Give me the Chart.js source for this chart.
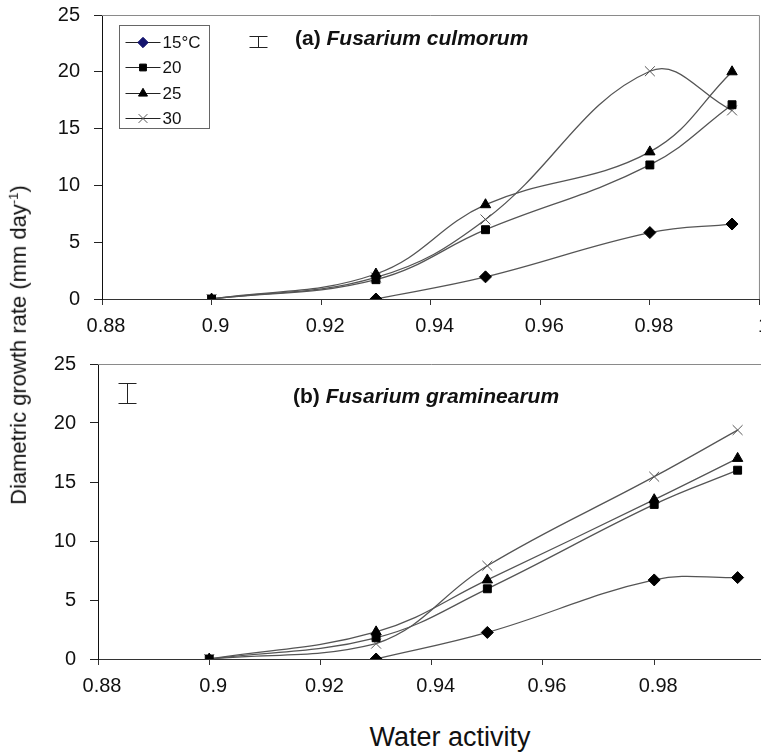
<!DOCTYPE html>
<html lang="en">
<head>
  <meta charset="UTF-8">
  <title>Diametric growth rate vs water activity</title>
  <script src="https://cdn.jsdelivr.net/npm/chart.js"></script>
  <style>
    body { margin: 0; width: 761px; height: 755px; overflow: hidden; background: #fff; position: relative; font-family: 'Liberation Sans', Arial, sans-serif; }
    canvas { position: absolute; left: 0; }
    #chartA { top: -11px; }
    #chartB { top: 338px; }
    #yTitle { position: absolute; left: 19px; top: 345px; transform: translate(-50%, -50%) rotate(-90deg); white-space: nowrap; font-size: 22px; color: #111; }
    #yTitle sup { font-size: 13px; }
    #xTitle { position: absolute; left: 450px; top: 737px; transform: translate(-50%, -50%); white-space: nowrap; font-size: 27px; color: #111; }
  </style>
</head>
<body>
  <canvas id="chartA" width="774" height="351"></canvas>
  <canvas id="chartB" width="780" height="372"></canvas>
  <div id="yTitle">Diametric growth rate (mm day<sup>-1</sup>)</div>
  <div id="xTitle">Water activity</div>

  <script>
    // water activity levels tested
    const waterActivity = [0.9, 0.93, 0.95, 0.98, 0.995];
    const temperatures = ['15°C', '20', '25', '30'];

    // (a) Fusarium culmorum, mm/day
    const culmorum15 = [null, 0, 1.95, 5.85, 6.6];
    const culmorum20 = [0, 1.7, 6.1, 11.8, 17.1];
    const culmorum25 = [0, 2.2, 8.3, 12.95, 20.0];
    const culmorum30 = [0, 1.9, 7.0, 20.05, 16.6];

    // (b) Fusarium graminearum, mm/day
    const graminearum15 = [null, 0, 2.25, 6.7, 6.9];
    const graminearum20 = [0, 1.8, 5.95, 13.1, 16.0];
    const graminearum25 = [0, 2.3, 6.7, 13.5, 17.0];
    const graminearum30 = [0, 1.3, 7.9, 15.45, 19.4];

    // LSD bars (value span) shown near the top left of each panel
    const lsdCulmorum = 1.0;
    const lsdGraminearum = 1.7;

    const yMin = 0, yMax = 25, yStep = 5;
    const xMin = 0.88, xMax = 1.0, xStep = 0.02;

    const markerStyles = ['rectRot', 'rect', 'triangle', 'crossRot'];
    const markerRadius = [6, 5.6, 6, 7];
    const markerColors = ['#000', '#000', '#000', '#555'];
    const legendMarkerColors = ['#14146e', '#000', '#000', '#555'];

    const FONT = "'Liberation Sans', Arial, sans-serif";

    function buildDatasets(series) {
      return series.map((vals, i) => ({
        label: temperatures[i],
        data: waterActivity.map((x, j) => ({ x, y: vals[j] })),
        borderColor: '#555',
        borderWidth: 1.3,
        tension: 0.4,
        pointStyle: markerStyles[i],
        pointRadius: markerRadius[i],
        pointBackgroundColor: markerColors[i],
        pointBorderColor: markerColors[i],
        pointBorderWidth: 1,
        spanGaps: false
      }));
    }

    // gray top/right frame, I-beam error bar and the species label
    const panelDecor = {
      id: 'panelDecor',
      beforeDatasetsDraw(chart, args, opts) {
        const { ctx, chartArea: a, scales: { x, y } } = chart;
        ctx.save();
        ctx.strokeStyle = '#8a8a8a';
        ctx.lineWidth = 1;
        ctx.beginPath();
        ctx.moveTo(a.left, Math.round(a.top) + 0.5);
        ctx.lineTo(a.right, Math.round(a.top) + 0.5);
        ctx.lineTo(a.right, a.bottom);
        ctx.stroke();

        // error bar
        const ex = Math.round(x.getPixelForValue(opts.barX)) + 0.5;
        const y1 = Math.round(y.getPixelForValue(opts.barY + opts.lsd / 2)) + 0.5;
        const y2 = Math.round(y.getPixelForValue(opts.barY - opts.lsd / 2)) + 0.5;
        ctx.strokeStyle = '#222';
        ctx.beginPath();
        ctx.moveTo(ex - 9, y1); ctx.lineTo(ex + 9, y1);
        ctx.moveTo(ex, y1); ctx.lineTo(ex, y2);
        ctx.moveTo(ex - 9, y2); ctx.lineTo(ex + 9, y2);
        ctx.stroke();

        // panel label: "(a)" bold, species name bold italic
        ctx.fillStyle = '#111';
        ctx.textBaseline = 'alphabetic';
        const tx = a.left + opts.dx, ty = a.top + opts.dy;
        ctx.font = 'bold 21px ' + FONT;
        ctx.fillText(opts.tag + ' ', tx, ty);
        const w = ctx.measureText(opts.tag + ' ').width;
        ctx.font = 'italic bold 21px ' + FONT;
        ctx.fillText(opts.name, tx + w, ty);
        ctx.restore();
      },
      afterDatasetsDraw(chart, args, opts) {
        if (!opts.legend) return;
        const { ctx, chartArea: a } = chart;
        const bx = Math.round(a.left + 17) + 0.5, by = Math.round(a.top + 10) + 0.5;
        ctx.save();
        ctx.fillStyle = '#fff';
        ctx.fillRect(bx, by, 90, 103);
        ctx.strokeStyle = '#666';
        ctx.lineWidth = 1;
        ctx.strokeRect(bx, by, 90, 103);
        chart.data.datasets.forEach((ds, i) => {
          const ry = Math.round(by + 16.5 + i * 25.3) + 0.5;
          ctx.strokeStyle = '#222';
          ctx.lineWidth = 1.2;
          ctx.beginPath();
          ctx.moveTo(bx + 6, ry); ctx.lineTo(bx + 41, ry);
          ctx.stroke();
          ctx.fillStyle = legendMarkerColors[i];
          ctx.strokeStyle = legendMarkerColors[i];
          ctx.lineWidth = 1;
          Chart.helpers.drawPoint(ctx, { pointStyle: ds.pointStyle, radius: ds.pointRadius - 0.8, rotation: 0, borderWidth: 1 }, bx + 23.5, ry);
          ctx.fillStyle = '#111';
          ctx.font = '17px ' + FONT;
          ctx.textBaseline = 'middle';
          ctx.fillText(ds.label, bx + 43, ry + 1);
        });
        ctx.restore();
      }
    };

    function makeChart(id, series, decor, axisWidth, axisHeight) {
      return new Chart(document.getElementById(id), {
        type: 'line',
        data: { datasets: buildDatasets(series) },
        options: {
          responsive: false,
          animation: false,
          layout: { padding: 0 },
          plugins: {
            legend: { display: false },
            tooltip: { enabled: false },
            panelDecor: decor
          },
          scales: {
            x: {
              type: 'linear',
              min: xMin, max: xMax,
              afterFit: s => { s.height = axisHeight; },
              ticks: {
                stepSize: xStep,
                color: '#111',
                font: { family: FONT, size: 20 },
                padding: 9,
                labelOffset: 4,
                maxRotation: 0,
                callback: v => String(+v.toFixed(2))
              },
              grid: { drawOnChartArea: false, drawTicks: true, tickLength: 6, color: '#333' },
              border: { color: '#333', width: 1 }
            },
            y: {
              min: yMin, max: yMax,
              afterFit: s => { s.width = axisWidth; },
              ticks: {
                stepSize: yStep,
                color: '#111',
                font: { family: FONT, size: 20 },
                padding: 14
              },
              grid: { drawOnChartArea: false, drawTicks: true, tickLength: 8, color: '#222' },
              border: { color: '#111', width: 1 }
            }
          }
        },
        plugins: [panelDecor]
      });
    }

    makeChart('chartA', [culmorum15, culmorum20, culmorum25, culmorum30],
      { tag: '(a)', name: 'Fusarium culmorum', dx: 193, dy: 30, barX: 0.9084, barY: 22.67, lsd: lsdCulmorum, legend: true },
      102, 41);

    makeChart('chartB', [graminearum15, graminearum20, graminearum25, graminearum30],
      { tag: '(b)', name: 'Fusarium graminearum', dx: 195, dy: 39, barX: 0.8853, barY: 22.55, lsd: lsdGraminearum, legend: false },
      98, 51);
  </script>
</body>
</html>
